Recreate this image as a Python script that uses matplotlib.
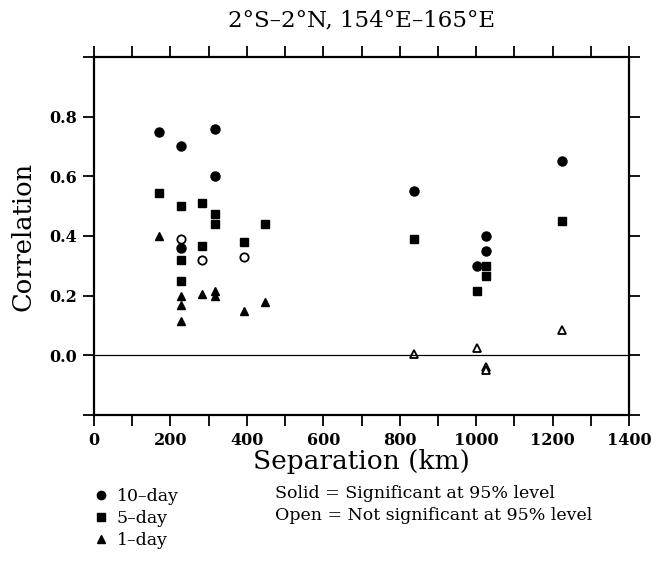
import matplotlib
matplotlib.use("Agg")
import matplotlib.pyplot as plt
from matplotlib.lines import Line2D

# separation (km) and correlation
# 10-day
ten_x_sig = [171, 227, 317, 317, 227, 837, 1225, 1025, 1025, 1001]
ten_y_sig = [0.75, 0.70, 0.76, 0.60, 0.36, 0.55, 0.65, 0.40, 0.35, 0.30]
ten_x_ns = [227, 283, 393]
ten_y_ns = [0.39, 0.32, 0.33]
# 5-day
five_x_sig = [171, 227, 283, 317, 317, 448, 283, 393, 227, 227, 837, 1225, 1025, 1025, 1001]
five_y_sig = [0.545, 0.50, 0.51, 0.475, 0.44, 0.44, 0.365, 0.38, 0.32, 0.25, 0.39, 0.45, 0.30, 0.265, 0.215]
# 1-day
one_x_sig = [171, 227, 227, 227, 283, 317, 317, 393, 448]
one_y_sig = [0.40, 0.20, 0.17, 0.115, 0.205, 0.215, 0.20, 0.15, 0.18]
one_x_ns = [837, 1001, 1025, 1025, 1225]
one_y_ns = [0.005, 0.025, -0.04, -0.05, 0.085]

x_ticks = list(range(0, 1401, 100))
x_labels = [str(v) if v % 200 == 0 else "" for v in x_ticks]
y_ticks = [-0.2, 0.0, 0.2, 0.4, 0.6, 0.8, 1.0]
y_labels = ["", "0.0", "0.2", "0.4", "0.6", "0.8", ""]

plt.rcParams["font.family"] = ["DejaVu Serif"]

fig = plt.figure(figsize=(6.51, 5.83), dpi=100)
ax = fig.add_axes([94 / 651, 1 - 415 / 583, 535 / 651, 358 / 583])

ms = 6.5
ax.plot(ten_x_sig, ten_y_sig, "o", color="black", ms=ms, ls="none")
ax.plot(ten_x_ns, ten_y_ns, "o", mfc="white", mec="black", mew=1.3, ms=ms - 0.5, ls="none")
ax.plot(five_x_sig, five_y_sig, "s", color="black", ms=ms - 0.5, ls="none")
ax.plot(one_x_sig, one_y_sig, "^", color="black", ms=ms - 0.5, ls="none")
ax.plot(one_x_ns, one_y_ns, "^", mfc="white", mec="black", mew=1.3, ms=ms - 0.8, ls="none")

ax.axhline(0, color="black", lw=0.9)

ax.set_xlim(0, 1400)
ax.set_ylim(-0.2, 1.0)
ax.set_xticks(x_ticks)
ax.set_xticklabels(x_labels)
ax.set_yticks(y_ticks)
ax.set_yticklabels(y_labels)
ax.tick_params(direction="out", length=8, width=1.3, labelsize=11.5,
               top=True, right=True, pad=4)
for lab in ax.get_xticklabels() + ax.get_yticklabels():
    lab.set_fontweight("bold")
for s in ax.spines.values():
    s.set_linewidth(1.6)

ax.set_xlabel("Separation (km)", fontsize=19, labelpad=0)
ax.set_ylabel("Correlation", fontsize=18.5, labelpad=10)
ax.set_title("2°S–2°N, 154°E–165°E", fontsize=16.5, pad=22)

handles = [
    Line2D([], [], marker="o", color="black", ls="none", ms=6),
    Line2D([], [], marker="s", color="black", ls="none", ms=5.5),
    Line2D([], [], marker="^", color="black", ls="none", ms=5.5),
]
leg = fig.legend(handles, ["10–day", "5–day", "1–day"], loc="upper left",
                 bbox_to_anchor=(80 / 651, 1 - 472 / 583), frameon=False,
                 handlelength=0.6, handletextpad=0.6, labelspacing=0.3,
                 prop={"size": 12.5})

fig.text(275 / 651, 1 - 494 / 583, "Solid = Significant at 95% level",
         fontsize=12.5, va="center")
fig.text(275 / 651, 1 - 516 / 583, "Open = Not significant at 95% level",
         fontsize=12.5, va="center")

fig.savefig("out.png", dpi=100)
